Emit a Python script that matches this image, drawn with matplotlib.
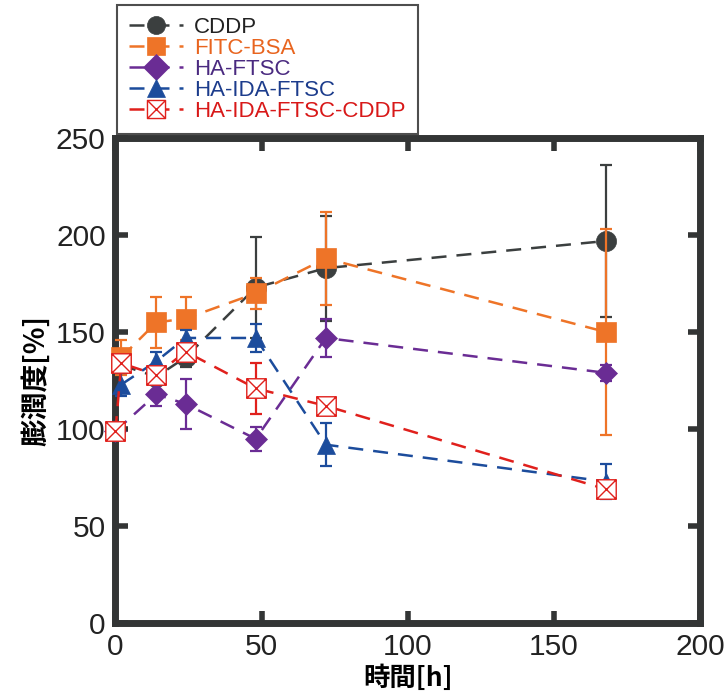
import numpy as np
import matplotlib.pyplot as plt
from matplotlib.path import Path

plt.rcParams['font.family'] = ['Liberation Sans', 'Noto Sans CJK JP', 'DejaVu Sans']

# 時間[h]
t = [2, 14, 24, 48, 72, 168]
t0 = [0, 14, 24, 48, 72, 168]
t_cd = [0, 2, 14, 24, 48, 72, 168]

cddp = [133, 127, 137, 173, 183, 197]
cddp_err = [4, 4, 5, 26, 27, 39]
fitc = [137, 155, 157, 170, 188, 150]
fitc_err = [9, 13, 11, 8, 24, 53]
haftsc = [99, 118, 113, 95, 147, 129]
haftsc_err = [3, 6, 13, 6, 10, 4]
haida = [123, 135, 147, 147, 92, 73]
haida_err = [6, 5, 4, 7, 11, 9]
haidacd = [99, 134, 128, 140, 121, 112, 69]
haidacd_err = [2, 3, 4, 3, 13, 3, 2]

names = ['CDDP', 'FITC-BSA', 'HA-FTSC', 'HA-IDA-FTSC', 'HA-IDA-FTSC-CDDP']
colors = ['#3b3f3f', '#ee7428', '#6a2c94', '#1c4c9c', '#e0201c']
txtcol = ['#222222', '#e8641e', '#4a2a80', '#1c3c8c', '#d81818']

# 四角にバツ印のマーカー
boxx = Path([(-1, -1), (1, -1), (1, 1), (-1, 1), (-1, -1),
             (-1, -1), (1, 1), (-1, 1), (1, -1)],
            [Path.MOVETO, Path.LINETO, Path.LINETO, Path.LINETO, Path.CLOSEPOLY,
             Path.MOVETO, Path.LINETO, Path.MOVETO, Path.LINETO])

fig = plt.figure(figsize=(7.26, 6.94), dpi=100)
ax = fig.add_axes([0.159, 0.102, 0.805, 0.699])

series = [
    (t, cddp, cddp_err, 'o', 14.5, colors[0]),
    (t, fitc, fitc_err, 's', 14, colors[1]),
    (t0, haftsc, haftsc_err, 'D', 11, colors[2]),
    (t, haida, haida_err, '^', 13, colors[3]),
    (t_cd, haidacd, haidacd_err, boxx, 14, colors[4]),
]

handles = []
for k, (x, y, e, m, ms, c) in enumerate(series):
    fc = 'white' if k == 4 else c
    ax.errorbar(x, y, yerr=e, color=c, ecolor=c, elinewidth=1.6, capsize=4,
                capthick=1.6, fmt='none', zorder=2 + k, clip_on=False)
    ln, = ax.plot(x, y, color=c, ls=(0, (6, 4)), lw=1.8, marker=m, ms=ms,
                  mfc=fc, mec=c, mew=1.0 if k == 4 else 0.5, zorder=2.5 + k,
                  clip_on=False, label=names[k])
    handles.append(ln)

ax.set_xlim(0, 200)
ax.set_ylim(0, 250)
ax.set_xticks([0, 50, 100, 150, 200])
ax.set_yticks([0, 50, 100, 150, 200, 250])
for s in ax.spines.values():
    s.set_linewidth(5)
    s.set_color('#333535')
ax.tick_params(direction='in', length=9, width=4, color='#333535',
               top=True, right=True, labelsize=21.5, labelcolor='#222222', pad=7)

ax.set_xlabel('時間[h]', fontsize=19, fontweight='bold',
              family=['Noto Sans CJK JP', 'DejaVu Sans'], labelpad=3)
ax.set_ylabel('膨潤度[%]', fontsize=20, fontweight='bold',
              family=['Noto Sans CJK JP', 'DejaVu Sans'], labelpad=4)

leg = ax.legend(handles=handles, loc='upper left', bbox_to_anchor=(0.003, 1.275),
                fontsize=16, frameon=True, fancybox=False, edgecolor='#222222',
                handlelength=2.4, handletextpad=0.5, borderpad=0.55,
                labelspacing=0.0, borderaxespad=0)
leg.get_frame().set_linewidth(1.5)
for txt, c in zip(leg.get_texts(), txtcol):
    txt.set_color(c)
for h in leg.legend_handles:
    h.set_markersize(13)

fig.savefig('out.png', dpi=100)
